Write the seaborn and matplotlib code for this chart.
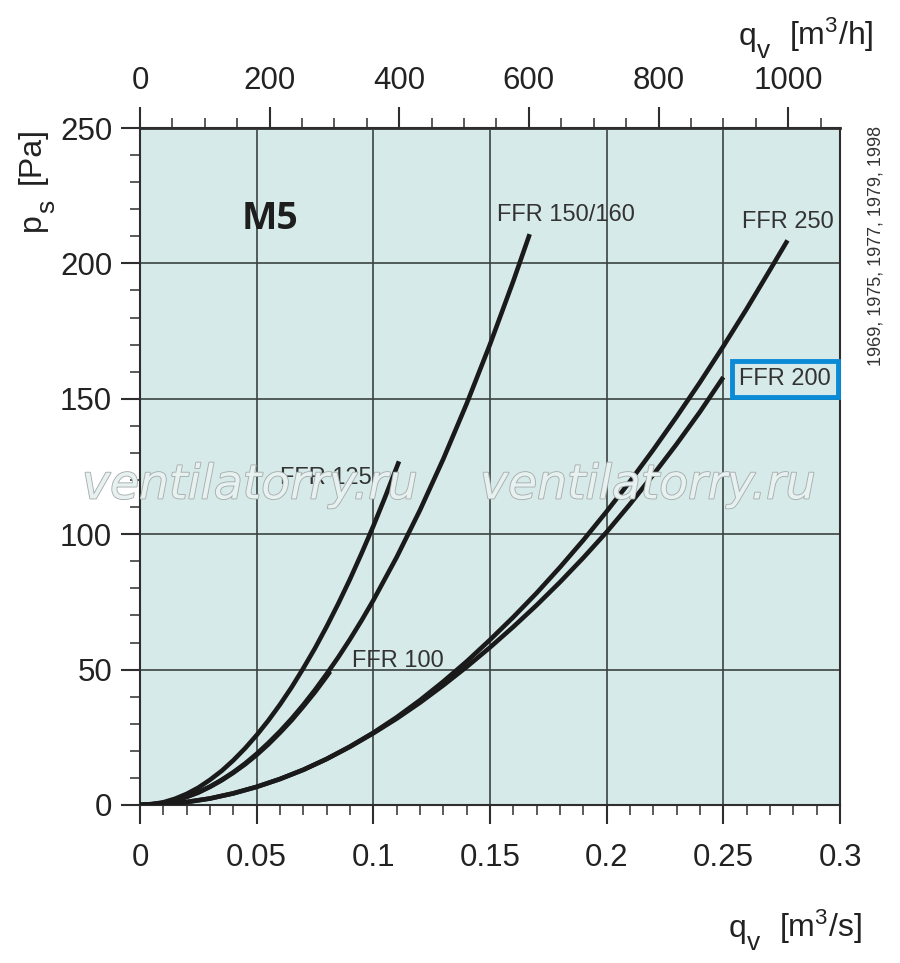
import numpy as np
import pandas as pd
import seaborn as sns
import matplotlib as mpl
import matplotlib.pyplot as plt
import matplotlib.ticker as tkr
import matplotlib.patheffects as pe

sns.set_style('ticks')
plt.rcParams['font.family'] = ['Liberation Sans', 'DejaVu Sans']
plt.rcParams['mathtext.fontset'] = 'custom'
plt.rcParams['mathtext.rm'] = 'Liberation Sans'
plt.rcParams['mathtext.default'] = 'regular'

# curve data: q [m3/s], ps [Pa]
q_125 = [0, 0.005, 0.01, 0.015, 0.02, 0.025, 0.03, 0.035, 0.04, 0.045, 0.05, 0.055,
         0.06, 0.065, 0.07, 0.075, 0.08, 0.085, 0.09, 0.095, 0.10, 0.105, 0.111]
p_125 = [0, 0.3, 1, 2.3, 4.1, 6.4, 9.3, 12.6, 16.5, 20.9, 25.8, 31.2,
         37.1, 43.5, 50.5, 57.9, 65.9, 74.4, 83.4, 93, 103, 113.6, 126.9]

q_150 = [0, 0.005, 0.01, 0.015, 0.02, 0.025, 0.03, 0.035, 0.04, 0.045, 0.05, 0.055,
         0.06, 0.065, 0.07, 0.075, 0.08, 0.085, 0.09, 0.095, 0.10,
         0.11, 0.12, 0.13, 0.14, 0.15, 0.16, 0.167]
p_150 = [0, 0.2, 0.8, 1.7, 3, 4.7, 6.8, 9.3, 12.1, 15.3, 18.9, 22.9,
         27.2, 31.9, 37, 42.5, 48.4, 54.6, 61.2, 68.2, 75.6,
         91.5, 108.9, 127.8, 148.2, 170.1, 193.5, 210.8]

q_100 = [0, 0.01, 0.015, 0.02, 0.025, 0.03, 0.035, 0.04, 0.045, 0.05, 0.055,
         0.06, 0.065, 0.07, 0.075, 0.08, 0.0815]
p_100 = [0, 0.7, 1.7, 3, 4.6, 6.7, 9.1, 11.9, 15, 18.5, 22.4,
         26.7, 31.3, 36.4, 41.7, 47.5, 49.3]

q_250 = [0, 0.01, 0.02, 0.03, 0.04, 0.05, 0.06, 0.07, 0.08, 0.09, 0.10,
         0.11, 0.12, 0.13, 0.14, 0.15, 0.16, 0.17, 0.18, 0.19, 0.20,
         0.21, 0.22, 0.23, 0.24, 0.25, 0.26, 0.27, 0.2775]
p_250 = [0, 0.3, 1.1, 2.4, 4.3, 6.7, 9.6, 13, 17, 21.6, 26.7,
         32.4, 38.7, 45.6, 53, 61, 69.4, 78.3, 87.8, 97.8, 108.4,
         119.5, 131.2, 143.4, 156.1, 169.4, 183.2, 197.6, 208.5]

q_200 = [0, 0.01, 0.02, 0.03, 0.04, 0.05, 0.06, 0.07, 0.08, 0.09, 0.10,
         0.11, 0.12, 0.13, 0.14, 0.15, 0.16, 0.17, 0.18, 0.19, 0.20,
         0.21, 0.22, 0.23, 0.24, 0.25]
p_200 = [0, 0.3, 1.1, 2.4, 4.3, 6.7, 9.6, 13, 17, 21.5, 26.5,
         31.9, 37.8, 44.2, 51, 58.2, 65.8, 73.8, 82.3, 91.3, 100.8,
         111.1, 122, 133.3, 145.2, 158]

fans = ['FFR 125', 'FFR 150/160', 'FFR 100', 'FFR 250', 'FFR 200']
curves = [(q_125, p_125), (q_150, p_150), (q_100, p_100), (q_250, p_250), (q_200, p_200)]

x_ticks = [0, 0.05, 0.1, 0.15, 0.2, 0.25, 0.3]
y_ticks = [0, 50, 100, 150, 200, 250]
top_ticks = [0, 200, 400, 600, 800, 1000]

df = pd.concat([pd.DataFrame({'fan': f, 'q': q, 'p': p}) for f, (q, p) in zip(fans, curves)],
               ignore_index=True)

W, H = 900, 963
fig = plt.figure(figsize=(W / 100, H / 100), dpi=100)
ax = fig.add_axes([140 / W, 1 - 805 / H, 700 / W, 677 / H])
ax.set_facecolor('#d6ebe9')

sns.lineplot(data=df, x='q', y='p', units='fan', estimator=None, sort=False,
             color='#1a1a1a', lw=3.3, ax=ax, legend=False, zorder=3,
             solid_capstyle='butt')

ax.set_xlim(0, 0.3)
ax.set_ylim(0, 250)
ax.set_xticks(x_ticks)
ax.set_yticks(y_ticks)
ax.xaxis.set_minor_locator(tkr.MultipleLocator(0.01))
ax.yaxis.set_minor_locator(tkr.MultipleLocator(10))
ax.xaxis.set_major_formatter(tkr.FuncFormatter(lambda v, p: '%g' % round(v, 3)))
ax.grid(which='major', color='#3a4242', lw=1.2, zorder=1)
ax.set_axisbelow(True)
ax.set_xlabel('')
ax.set_ylabel('')
for s in ax.spines.values():
    s.set_color('#2e2e2e')
    s.set_linewidth(1.5)

ink = '#2e2e2e'
ax.tick_params(axis='x', which='major', direction='out', length=14, width=1.5,
               color=ink, labelsize=22.5, pad=13, labelcolor='#222222')
ax.tick_params(axis='x', which='minor', direction='out', length=7, width=1.1, color=ink)
ax.tick_params(axis='y', which='major', direction='out', length=14, width=1.5,
               color=ink, labelsize=22.5, pad=6, labelcolor='#222222')
ax.tick_params(axis='y', which='minor', direction='out', length=7, width=1.1, color=ink)

top = ax.secondary_xaxis('top', functions=(lambda q: q * 3600, lambda h: h / 3600))
top.set_xticks(top_ticks)
top.xaxis.set_minor_locator(tkr.MultipleLocator(50))
top.tick_params(axis='x', which='major', direction='out', length=15, width=1.5,
                color=ink, labelsize=22.5, pad=8, labelcolor='#222222')
top.tick_params(axis='x', which='minor', direction='out', length=7, width=1.1, color=ink)
top.spines['top'].set_color(ink)
top.spines['top'].set_linewidth(2)


def piece(x, y, s, size=23, rot=0):
    # place a piece of an axis title, pixel coords from the top-left corner
    fig.text(x / W, 1 - y / H, s, ha='left', va='baseline', fontsize=size,
             rotation=rot, rotation_mode='anchor', color='#222222')


# q_v [m3/s] at the bottom
piece(729, 937, 'q')
piece(747, 950, 'v', 19)
piece(779, 937, r'[m$^{3}$/s]')
# q_v [m3/h] at the top
piece(739, 45, 'q')
piece(757, 58, 'v', 19)
piece(789, 45, r'[m$^{3}$/h]')
# p_s [Pa] on the left
piece(40, 231, 'p', rot=90)
piece(54, 213, 's', 19, rot=90)
piece(40, 184, '[Pa]', rot=90)

fig.text(876 / W, 1 - 246 / H, '1969, 1975, 1977, 1979, 1998', ha='center', va='center',
         rotation=90, fontsize=13, color='#333333')

# labels on the curves
lab = dict(fontsize=17, color='#333333', ha='center', va='center', zorder=5)
ax.text(0.0797, 120.7, 'FFR 125', **lab)
ax.text(0.1826, 217.9, 'FFR 150/160', **lab)
ax.text(0.1104, 53.2, 'FFR 100', **lab)
ax.text(0.2775, 215.3, 'FFR 250', **lab)
ax.text(0.2765, 157.3, 'FFR 200', bbox=dict(boxstyle='square,pad=0.3', fc='none',
                                            ec='#0b8ad6', lw=3.5), **lab)
ax.text(0.0557, 216.4, 'M5', fontsize=27, fontweight='bold', family='Open Sans',
        color='#1e1e1e', ha='center', va='center', zorder=5)

# watermark
for cx in (250, 648):
    t = fig.text(cx / W, 1 - 486 / H, 'ventilatorry.ru', fontsize=34, style='italic',
                 family='DejaVu Sans', color='#e6f1f0', ha='center', va='center', zorder=10)
    t.set_path_effects([pe.Stroke(linewidth=1.3, foreground='#a9aeae'), pe.Normal()])

fig.savefig('out.png', dpi=100, facecolor='white')
